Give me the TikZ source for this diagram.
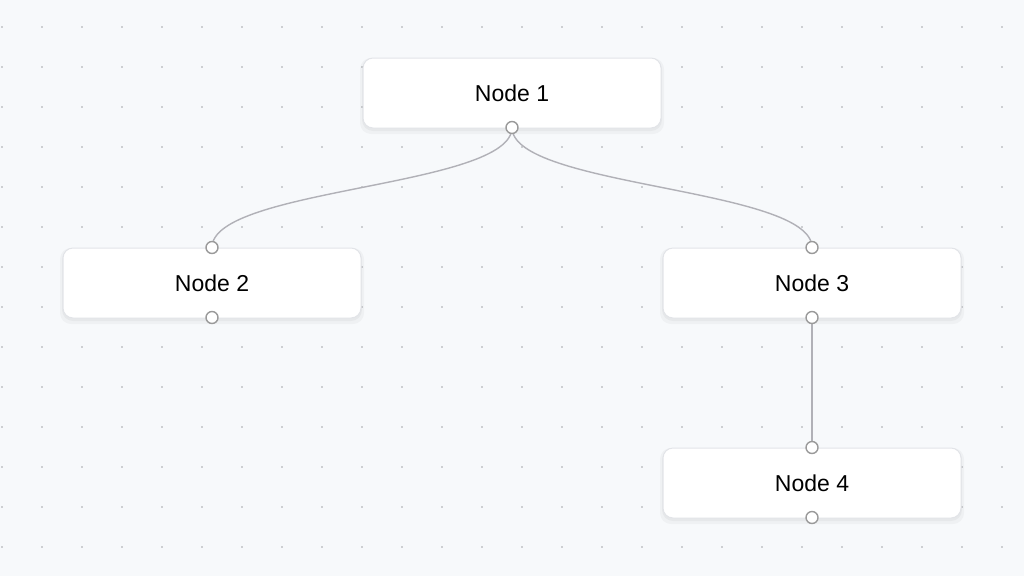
\documentclass[tikz,border=0pt]{standalone}
\usepackage{fontspec}
\setmainfont{Liberation Sans}
\definecolor{canvas}{HTML}{F7F9FB}
\definecolor{dotc}{HTML}{A3A6AA}
\definecolor{edgec}{HTML}{B1B1B7}
\definecolor{boxline}{HTML}{E2E4E8}
\definecolor{handlec}{HTML}{9A9A9A}
\begin{document}
\begin{tikzpicture}[x=1pt,y=-1pt,
  flowbox/.style={rectangle, rounded corners=10pt, fill=white, draw=boxline,
    line width=1pt, minimum width=298pt, minimum height=70pt,
    font=\fontsize{23}{27}\selectfont, text=black, inner sep=0pt},
  boxshade/.style={rectangle, rounded corners=11pt, fill=black, draw=none,
    minimum width=300pt, minimum height=72pt},
  handle/.style={circle, fill=white, draw=handlec, line width=1.4pt,
    minimum size=12pt, inner sep=0pt},
  link/.style={draw=edgec, line width=1.4pt}]
  % canvas and dotted grid
  \fill[canvas] (0,0) rectangle (1024,576);
  \useasboundingbox (0,0) rectangle (1024,576);
  \foreach \gx in {2,42,...,1002}
    \foreach \gy in {27,67,...,547}
      \fill[dotc] (\gx,\gy) circle (0.8pt);
  % soft shadows under the boxes
  \foreach \cx/\cy in {512/93,212/283,812/283,812/483}{
    \node[boxshade, opacity=0.035] at (\cx,\cy+2) {};
    \node[boxshade, opacity=0.03, minimum width=304pt, minimum height=76pt] at (\cx,\cy+3) {};
  }
  % boxes
  \node[flowbox] (n1) at (512,93) {Node 1};
  \node[flowbox] (n2) at (212,283) {Node 2};
  \node[flowbox] (n3) at (812,283) {Node 3};
  \node[flowbox] (n4) at (812,483) {Node 4};
  % handle positions
  \coordinate (n1s) at ([yshift=1pt]n1.south);
  \coordinate (n2t) at (n2.north);
  \coordinate (n2s) at ([yshift=1pt]n2.south);
  \coordinate (n3t) at (n3.north);
  \coordinate (n3s) at ([yshift=1pt]n3.south);
  \coordinate (n4t) at (n4.north);
  \coordinate (n4s) at ([yshift=1pt]n4.south);
  % connectors
  \draw[link] (n1s) .. controls +(0,60) and +(0,-60) .. (n2t);
  \draw[link] (n1s) .. controls +(0,60) and +(0,-60) .. (n3t);
  \draw[link] (n3s) -- (n4t);
  % handles
  \foreach \h in {n1s,n2t,n2s,n3t,n3s,n4t,n4s}
    \node[handle] at (\h) {};
\end{tikzpicture}
\end{document}
